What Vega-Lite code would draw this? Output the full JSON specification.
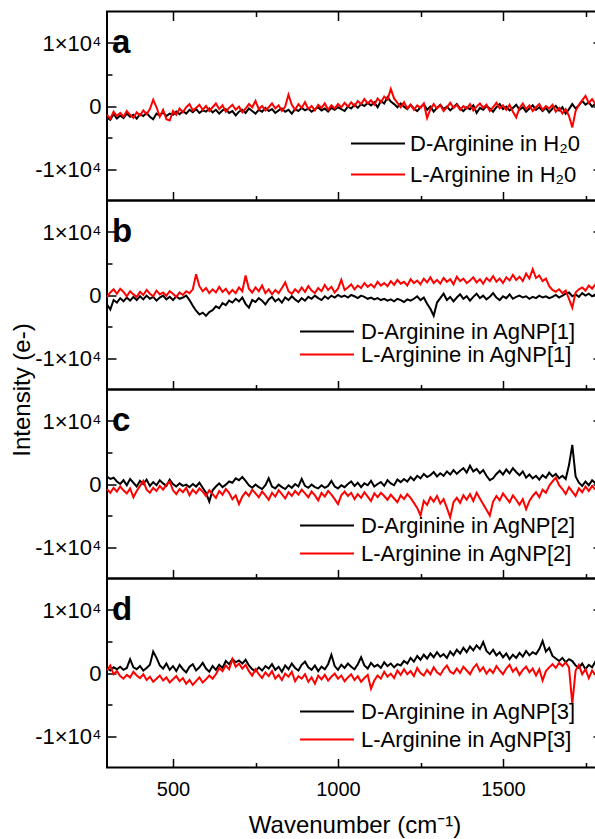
{
"$schema":"https://vega.github.io/schema/vega-lite/v6.json",
"background":"white",
"padding":{"left":9,"top":9.5,"right":0,"bottom":0},
"spacing":0,
"bounds":"flush",
"config":{"font":"Liberation Sans","view":{"stroke":"#000000","strokeWidth":2},
"axis":{"domain":false,"grid":false,"tickColor":"#000000","tickWidth":1.5,"labelColor":"#000000","labelFont":"Liberation Sans","labelFontSize":22,"titleFont":"Liberation Sans","titleColor":"#000000","titleFontWeight":"normal","titleFontSize":24}},
"datasets":{
"aD":[{"x":300,"y":-1800},{"x":310,"y":-2200},{"x":320,"y":-1300},{"x":330,"y":-2000},{"x":340,"y":-1500},{"x":350,"y":-1900},{"x":360,"y":-1200},{"x":370,"y":-1700},{"x":380,"y":-1400},{"x":390,"y":-2000},
{"x":400,"y":-1300},{"x":410,"y":-1600},{"x":420,"y":-1100},{"x":430,"y":-1700},{"x":440,"y":-2100},{"x":450,"y":-1200},{"x":460,"y":-1500},{"x":470,"y":-1000},{"x":480,"y":-1600},{"x":490,"y":-1200},
{"x":500,"y":-1400},{"x":510,"y":-900},{"x":520,"y":-1300},{"x":530,"y":-800},{"x":540,"y":-1200},{"x":550,"y":-600},{"x":560,"y":-1000},{"x":570,"y":-500},{"x":580,"y":-1100},{"x":590,"y":-700},
{"x":600,"y":-900},{"x":610,"y":-400},{"x":620,"y":-1000},{"x":630,"y":-600},{"x":640,"y":-1200},{"x":650,"y":-700},{"x":660,"y":-500},{"x":670,"y":-1100},{"x":680,"y":-800},{"x":690,"y":-1500},
{"x":700,"y":-900},{"x":710,"y":-600},{"x":720,"y":-1100},{"x":730,"y":-400},{"x":740,"y":-800},{"x":750,"y":-1200},{"x":760,"y":-600},{"x":770,"y":-900},{"x":780,"y":-300},{"x":790,"y":-800},
{"x":800,"y":-500},{"x":810,"y":-1100},{"x":820,"y":-700},{"x":830,"y":-400},{"x":840,"y":-900},{"x":850,"y":-600},{"x":860,"y":-1200},{"x":870,"y":-500},{"x":880,"y":-800},{"x":890,"y":-300},
{"x":900,"y":-700},{"x":910,"y":-400},{"x":920,"y":-900},{"x":930,"y":-500},{"x":940,"y":-200},{"x":950,"y":-700},{"x":960,"y":-400},{"x":970,"y":-900},{"x":980,"y":-300},{"x":990,"y":-600},
{"x":1000,"y":-200},{"x":1010,"y":-500},{"x":1020,"y":-800},{"x":1030,"y":-100},{"x":1040,"y":-400},{"x":1050,"y":200},{"x":1060,"y":-300},{"x":1070,"y":300},{"x":1080,"y":0},{"x":1090,"y":500},
{"x":1100,"y":100},{"x":1110,"y":600},{"x":1120,"y":-200},{"x":1130,"y":800},{"x":1140,"y":400},{"x":1150,"y":1400},{"x":1160,"y":700},{"x":1170,"y":300},{"x":1180,"y":-200},{"x":1190,"y":400},
{"x":1200,"y":-100},{"x":1210,"y":-500},{"x":1220,"y":200},{"x":1230,"y":-400},{"x":1240,"y":-800},{"x":1250,"y":-200},{"x":1260,"y":300},{"x":1270,"y":-600},{"x":1280,"y":-100},{"x":1290,"y":-900},
{"x":1300,"y":-300},{"x":1310,"y":200},{"x":1320,"y":-500},{"x":1330,"y":-100},{"x":1340,"y":-700},{"x":1350,"y":-200},{"x":1360,"y":300},{"x":1370,"y":-400},{"x":1380,"y":-800},{"x":1390,"y":-200},
{"x":1400,"y":-500},{"x":1410,"y":100},{"x":1420,"y":-1100},{"x":1430,"y":-300},{"x":1440,"y":-600},{"x":1450,"y":0},{"x":1460,"y":-400},{"x":1470,"y":-900},{"x":1480,"y":-200},{"x":1490,"y":300},
{"x":1500,"y":-500},{"x":1510,"y":-100},{"x":1520,"y":-700},{"x":1530,"y":-300},{"x":1540,"y":200},{"x":1550,"y":-600},{"x":1560,"y":-200},{"x":1570,"y":-900},{"x":1580,"y":-400},{"x":1590,"y":100},
{"x":1600,"y":-600},{"x":1610,"y":-200},{"x":1620,"y":-800},{"x":1630,"y":-300},{"x":1640,"y":-1000},{"x":1650,"y":-400},{"x":1660,"y":0},{"x":1670,"y":-700},{"x":1680,"y":-200},{"x":1690,"y":-1200},
{"x":1700,"y":-500},{"x":1710,"y":300},{"x":1720,"y":-400},{"x":1730,"y":100},{"x":1740,"y":800},{"x":1750,"y":200},{"x":1760,"y":600},{"x":1770,"y":-100},{"x":1780,"y":400},{"x":1790,"y":-300},
{"x":1800,"y":200}],
"aL":[{"x":300,"y":-1400},{"x":310,"y":-2000},{"x":320,"y":-900},{"x":330,"y":-1600},{"x":340,"y":-1100},{"x":350,"y":-1700},{"x":360,"y":-800},{"x":370,"y":-1400},{"x":380,"y":-1900},{"x":390,"y":-1000},
{"x":400,"y":-1500},{"x":410,"y":-700},{"x":420,"y":-1300},{"x":430,"y":-500},{"x":440,"y":1000},{"x":450,"y":-200},{"x":460,"y":-1700},{"x":470,"y":-600},{"x":480,"y":-2100},{"x":490,"y":-2300},
{"x":500,"y":-800},{"x":510,"y":-1400},{"x":520,"y":-400},{"x":530,"y":-1000},{"x":540,"y":-200},{"x":550,"y":300},{"x":560,"y":-700},{"x":570,"y":-300},{"x":580,"y":200},{"x":590,"y":-600},
{"x":600,"y":0},{"x":610,"y":-800},{"x":620,"y":-200},{"x":630,"y":400},{"x":640,"y":-500},{"x":650,"y":100},{"x":660,"y":-900},{"x":670,"y":-300},{"x":680,"y":200},{"x":690,"y":-600},
{"x":700,"y":-100},{"x":710,"y":-1000},{"x":720,"y":-400},{"x":730,"y":300},{"x":740,"y":-200},{"x":750,"y":800},{"x":760,"y":-500},{"x":770,"y":0},{"x":780,"y":-700},{"x":790,"y":-200},
{"x":800,"y":400},{"x":810,"y":-400},{"x":820,"y":100},{"x":830,"y":-800},{"x":840,"y":-100},{"x":850,"y":1800},{"x":860,"y":200},{"x":870,"y":-600},{"x":880,"y":300},{"x":890,"y":-300},
{"x":900,"y":600},{"x":910,"y":-500},{"x":920,"y":0},{"x":930,"y":-700},{"x":940,"y":200},{"x":950,"y":-300},{"x":960,"y":400},{"x":970,"y":-600},{"x":980,"y":100},{"x":990,"y":-400},
{"x":1000,"y":300},{"x":1010,"y":-200},{"x":1020,"y":500},{"x":1030,"y":-100},{"x":1040,"y":600},{"x":1050,"y":0},{"x":1060,"y":800},{"x":1070,"y":300},{"x":1080,"y":1100},{"x":1090,"y":400},
{"x":1100,"y":900},{"x":1110,"y":200},{"x":1120,"y":1200},{"x":1130,"y":600},{"x":1140,"y":1500},{"x":1150,"y":1000},{"x":1160,"y":2700},{"x":1170,"y":1200},{"x":1180,"y":500},{"x":1190,"y":-200},
{"x":1200,"y":600},{"x":1210,"y":-400},{"x":1220,"y":200},{"x":1230,"y":-600},{"x":1240,"y":100},{"x":1250,"y":-300},{"x":1260,"y":400},{"x":1270,"y":-1900},{"x":1280,"y":-500},{"x":1290,"y":300},
{"x":1300,"y":-400},{"x":1310,"y":100},{"x":1320,"y":-800},{"x":1330,"y":-200},{"x":1340,"y":500},{"x":1350,"y":-300},{"x":1360,"y":200},{"x":1370,"y":-600},{"x":1380,"y":0},{"x":1390,"y":-400},
{"x":1400,"y":300},{"x":1410,"y":-700},{"x":1420,"y":-100},{"x":1430,"y":400},{"x":1440,"y":-300},{"x":1450,"y":200},{"x":1460,"y":-800},{"x":1470,"y":-200},{"x":1480,"y":500},{"x":1490,"y":-400},
{"x":1500,"y":100},{"x":1510,"y":-600},{"x":1520,"y":200},{"x":1530,"y":-900},{"x":1540,"y":-1800},{"x":1550,"y":-300},{"x":1560,"y":400},{"x":1570,"y":-500},{"x":1580,"y":100},{"x":1590,"y":-800},
{"x":1600,"y":-200},{"x":1610,"y":300},{"x":1620,"y":-600},{"x":1630,"y":0},{"x":1640,"y":-400},{"x":1650,"y":200},{"x":1660,"y":-900},{"x":1670,"y":-300},{"x":1680,"y":-1200},{"x":1690,"y":-500},
{"x":1700,"y":-1600},{"x":1710,"y":-3400},{"x":1720,"y":-800},{"x":1730,"y":200},{"x":1740,"y":900},{"x":1750,"y":1600},{"x":1760,"y":500},{"x":1770,"y":1100},{"x":1780,"y":300},{"x":1790,"y":800},
{"x":1800,"y":-200}],
"bD":[{"x":300,"y":-1500},{"x":310,"y":-2300},{"x":320,"y":-800},{"x":330,"y":-1200},{"x":340,"y":-500},{"x":350,"y":-1000},{"x":360,"y":-400},{"x":370,"y":-900},{"x":380,"y":-300},{"x":390,"y":-800},
{"x":400,"y":-200},{"x":410,"y":-700},{"x":420,"y":-100},{"x":430,"y":-600},{"x":440,"y":-300},{"x":450,"y":-900},{"x":460,"y":-400},{"x":470,"y":-100},{"x":480,"y":-700},{"x":490,"y":-300},
{"x":500,"y":-800},{"x":510,"y":-200},{"x":520,"y":-600},{"x":530,"y":-400},{"x":540,"y":-100},{"x":550,"y":-800},{"x":560,"y":-1700},{"x":570,"y":-2500},{"x":580,"y":-3100},{"x":590,"y":-2800},
{"x":600,"y":-3300},{"x":610,"y":-2700},{"x":620,"y":-2400},{"x":630,"y":-1800},{"x":640,"y":-2100},{"x":650,"y":-1300},{"x":660,"y":-1600},{"x":670,"y":-900},{"x":680,"y":-1200},{"x":690,"y":-600},
{"x":700,"y":-1000},{"x":710,"y":-400},{"x":720,"y":-1400},{"x":730,"y":-2000},{"x":740,"y":-800},{"x":750,"y":-1100},{"x":760,"y":-500},{"x":770,"y":-900},{"x":780,"y":-1500},{"x":790,"y":-700},
{"x":800,"y":-300},{"x":810,"y":-1000},{"x":820,"y":-600},{"x":830,"y":-1200},{"x":840,"y":-400},{"x":850,"y":-800},{"x":860,"y":-200},{"x":870,"y":-700},{"x":880,"y":-1100},{"x":890,"y":-500},
{"x":900,"y":-900},{"x":910,"y":-300},{"x":920,"y":-600},{"x":930,"y":-100},{"x":940,"y":-500},{"x":950,"y":-800},{"x":960,"y":-200},{"x":970,"y":-600},{"x":980,"y":-100},{"x":990,"y":-400},
{"x":1000,"y":0},{"x":1010,"y":-300},{"x":1020,"y":-100},{"x":1030,"y":-400},{"x":1040,"y":0},{"x":1050,"y":-200},{"x":1060,"y":-500},{"x":1070,"y":-100},{"x":1080,"y":-300},{"x":1090,"y":-600},
{"x":1100,"y":-400},{"x":1110,"y":-700},{"x":1120,"y":-500},{"x":1130,"y":-800},{"x":1140,"y":-600},{"x":1150,"y":-900},{"x":1160,"y":-700},{"x":1170,"y":-1000},{"x":1180,"y":-600},{"x":1190,"y":-800},
{"x":1200,"y":-1100},{"x":1210,"y":-700},{"x":1220,"y":-900},{"x":1230,"y":-600},{"x":1240,"y":-200},{"x":1250,"y":-800},{"x":1260,"y":-400},{"x":1270,"y":-1400},{"x":1280,"y":-2200},{"x":1290,"y":-3300},
{"x":1300,"y":-1200},{"x":1310,"y":-500},{"x":1320,"y":200},{"x":1330,"y":-800},{"x":1340,"y":-300},{"x":1350,"y":-1000},{"x":1360,"y":-400},{"x":1370,"y":100},{"x":1380,"y":-600},{"x":1390,"y":-200},
{"x":1400,"y":-900},{"x":1410,"y":-300},{"x":1420,"y":200},{"x":1430,"y":-500},{"x":1440,"y":-100},{"x":1450,"y":-700},{"x":1460,"y":-300},{"x":1470,"y":300},{"x":1480,"y":-400},{"x":1490,"y":-800},
{"x":1500,"y":-200},{"x":1510,"y":-500},{"x":1520,"y":100},{"x":1530,"y":-600},{"x":1540,"y":-300},{"x":1550,"y":-100},{"x":1560,"y":-400},{"x":1570,"y":-200},{"x":1580,"y":-600},{"x":1590,"y":-300},
{"x":1600,"y":-500},{"x":1610,"y":-100},{"x":1620,"y":-400},{"x":1630,"y":-200},{"x":1640,"y":-500},{"x":1650,"y":-300},{"x":1660,"y":0},{"x":1670,"y":-400},{"x":1680,"y":-100},{"x":1690,"y":200},
{"x":1700,"y":400},{"x":1710,"y":-200},{"x":1720,"y":100},{"x":1730,"y":-300},{"x":1740,"y":300},{"x":1750,"y":-100},{"x":1760,"y":200},{"x":1770,"y":-200},{"x":1780,"y":100},{"x":1790,"y":-300},
{"x":1800,"y":0}],
"bL":[{"x":300,"y":-300},{"x":310,"y":400},{"x":320,"y":900},{"x":330,"y":200},{"x":340,"y":1000},{"x":350,"y":500},{"x":360,"y":-200},{"x":370,"y":600},{"x":380,"y":100},{"x":390,"y":-300},
{"x":400,"y":500},{"x":410,"y":0},{"x":420,"y":800},{"x":430,"y":200},{"x":440,"y":-200},{"x":450,"y":700},{"x":460,"y":100},{"x":470,"y":400},{"x":480,"y":-100},{"x":490,"y":600},
{"x":500,"y":200},{"x":510,"y":-300},{"x":520,"y":400},{"x":530,"y":0},{"x":540,"y":600},{"x":550,"y":300},{"x":560,"y":900},{"x":570,"y":3300},{"x":580,"y":1400},{"x":590,"y":600},
{"x":600,"y":1100},{"x":610,"y":300},{"x":620,"y":900},{"x":630,"y":400},{"x":640,"y":1300},{"x":650,"y":500},{"x":660,"y":1000},{"x":670,"y":200},{"x":680,"y":800},{"x":690,"y":300},
{"x":700,"y":1200},{"x":710,"y":600},{"x":720,"y":3100},{"x":730,"y":1000},{"x":740,"y":400},{"x":750,"y":1200},{"x":760,"y":600},{"x":770,"y":1500},{"x":780,"y":300},{"x":790,"y":900},
{"x":800,"y":100},{"x":810,"y":800},{"x":820,"y":300},{"x":830,"y":1100},{"x":840,"y":2000},{"x":850,"y":600},{"x":860,"y":200},{"x":870,"y":900},{"x":880,"y":400},{"x":890,"y":1200},
{"x":900,"y":500},{"x":910,"y":1400},{"x":920,"y":700},{"x":930,"y":300},{"x":940,"y":1100},{"x":950,"y":600},{"x":960,"y":1600},{"x":970,"y":800},{"x":980,"y":1300},{"x":990,"y":400},
{"x":1000,"y":1000},{"x":1010,"y":2400},{"x":1020,"y":800},{"x":1030,"y":1200},{"x":1040,"y":1700},{"x":1050,"y":900},{"x":1060,"y":1500},{"x":1070,"y":1100},{"x":1080,"y":1900},{"x":1090,"y":1300},
{"x":1100,"y":1700},{"x":1110,"y":1200},{"x":1120,"y":2100},{"x":1130,"y":1500},{"x":1140,"y":1900},{"x":1150,"y":1400},{"x":1160,"y":2200},{"x":1170,"y":1600},{"x":1180,"y":2400},{"x":1190,"y":1800},
{"x":1200,"y":2100},{"x":1210,"y":1500},{"x":1220,"y":2500},{"x":1230,"y":1900},{"x":1240,"y":2300},{"x":1250,"y":1700},{"x":1260,"y":2600},{"x":1270,"y":2000},{"x":1280,"y":2800},{"x":1290,"y":1900},
{"x":1300,"y":2400},{"x":1310,"y":1800},{"x":1320,"y":2700},{"x":1330,"y":2100},{"x":1340,"y":2500},{"x":1350,"y":1700},{"x":1360,"y":2900},{"x":1370,"y":2200},{"x":1380,"y":2600},{"x":1390,"y":1900},
{"x":1400,"y":2300},{"x":1410,"y":2800},{"x":1420,"y":2000},{"x":1430,"y":2500},{"x":1440,"y":1800},{"x":1450,"y":2700},{"x":1460,"y":2200},{"x":1470,"y":3000},{"x":1480,"y":2100},{"x":1490,"y":2600},
{"x":1500,"y":1900},{"x":1510,"y":2800},{"x":1520,"y":2300},{"x":1530,"y":3200},{"x":1540,"y":2400},{"x":1550,"y":2900},{"x":1560,"y":2200},{"x":1570,"y":3400},{"x":1580,"y":2600},{"x":1590,"y":4100},
{"x":1600,"y":2700},{"x":1610,"y":3100},{"x":1620,"y":2200},{"x":1630,"y":2600},{"x":1640,"y":1400},{"x":1650,"y":800},{"x":1660,"y":500},{"x":1670,"y":900},{"x":1680,"y":300},{"x":1690,"y":700},
{"x":1700,"y":-600},{"x":1710,"y":-2000},{"x":1720,"y":400},{"x":1730,"y":900},{"x":1740,"y":1200},{"x":1750,"y":700},{"x":1760,"y":1500},{"x":1770,"y":1000},{"x":1780,"y":1700},{"x":1790,"y":1200},
{"x":1800,"y":1500}],
"cD":[{"x":300,"y":1200},{"x":310,"y":800},{"x":320,"y":1000},{"x":330,"y":400},{"x":340,"y":0},{"x":350,"y":600},{"x":360,"y":-200},{"x":370,"y":800},{"x":380,"y":200},{"x":390,"y":-400},
{"x":400,"y":500},{"x":410,"y":0},{"x":420,"y":700},{"x":430,"y":-300},{"x":440,"y":300},{"x":450,"y":-200},{"x":460,"y":600},{"x":470,"y":100},{"x":480,"y":-300},{"x":490,"y":700},
{"x":500,"y":0},{"x":510,"y":-400},{"x":520,"y":100},{"x":530,"y":-300},{"x":540,"y":-100},{"x":550,"y":-500},{"x":560,"y":0},{"x":570,"y":-400},{"x":580,"y":200},{"x":590,"y":-600},
{"x":600,"y":-1400},{"x":610,"y":-2800},{"x":620,"y":-1000},{"x":630,"y":-400},{"x":640,"y":100},{"x":650,"y":-500},{"x":660,"y":-100},{"x":670,"y":400},{"x":680,"y":200},{"x":690,"y":900},
{"x":700,"y":600},{"x":710,"y":1100},{"x":720,"y":500},{"x":730,"y":-200},{"x":740,"y":-600},{"x":750,"y":-100},{"x":760,"y":-500},{"x":770,"y":-800},{"x":780,"y":-200},{"x":790,"y":900},
{"x":800,"y":-400},{"x":810,"y":-700},{"x":820,"y":-100},{"x":830,"y":-500},{"x":840,"y":-800},{"x":850,"y":-200},{"x":860,"y":-600},{"x":870,"y":0},{"x":880,"y":-400},{"x":890,"y":800},
{"x":900,"y":-300},{"x":910,"y":-600},{"x":920,"y":-100},{"x":930,"y":-500},{"x":940,"y":-700},{"x":950,"y":-200},{"x":960,"y":-600},{"x":970,"y":-300},{"x":980,"y":500},{"x":990,"y":-400},
{"x":1000,"y":-700},{"x":1010,"y":-200},{"x":1020,"y":-500},{"x":1030,"y":0},{"x":1040,"y":400},{"x":1050,"y":-300},{"x":1060,"y":200},{"x":1070,"y":-500},{"x":1080,"y":100},{"x":1090,"y":-200},
{"x":1100,"y":500},{"x":1110,"y":-400},{"x":1120,"y":0},{"x":1130,"y":300},{"x":1140,"y":-300},{"x":1150,"y":600},{"x":1160,"y":100},{"x":1170,"y":-200},{"x":1180,"y":700},{"x":1190,"y":300},
{"x":1200,"y":800},{"x":1210,"y":400},{"x":1220,"y":1100},{"x":1230,"y":600},{"x":1240,"y":1300},{"x":1250,"y":900},{"x":1260,"y":1600},{"x":1270,"y":1100},{"x":1280,"y":1400},{"x":1290,"y":1900},
{"x":1300,"y":1200},{"x":1310,"y":1700},{"x":1320,"y":1300},{"x":1330,"y":2000},{"x":1340,"y":1500},{"x":1350,"y":2200},{"x":1360,"y":1600},{"x":1370,"y":2100},{"x":1380,"y":2500},{"x":1390,"y":1800},
{"x":1400,"y":2900},{"x":1410,"y":2000},{"x":1420,"y":2400},{"x":1430,"y":1700},{"x":1440,"y":2200},{"x":1450,"y":1300},{"x":1460,"y":600},{"x":1470,"y":900},{"x":1480,"y":1600},{"x":1490,"y":2100},
{"x":1500,"y":1500},{"x":1510,"y":2300},{"x":1520,"y":1700},{"x":1530,"y":2500},{"x":1540,"y":1900},{"x":1550,"y":1400},{"x":1560,"y":2000},{"x":1570,"y":1000},{"x":1580,"y":1500},{"x":1590,"y":900},
{"x":1600,"y":1300},{"x":1610,"y":700},{"x":1620,"y":1400},{"x":1630,"y":1000},{"x":1640,"y":1800},{"x":1650,"y":1200},{"x":1660,"y":1600},{"x":1670,"y":900},{"x":1680,"y":1300},{"x":1690,"y":800},
{"x":1700,"y":3000},{"x":1710,"y":6200},{"x":1720,"y":1200},{"x":1730,"y":200},{"x":1740,"y":-300},{"x":1750,"y":400},{"x":1760,"y":-200},{"x":1770,"y":600},{"x":1780,"y":100},{"x":1790,"y":1000},
{"x":1800,"y":400}],
"cL":[{"x":300,"y":-800},{"x":310,"y":-1400},{"x":320,"y":-600},{"x":330,"y":-1200},{"x":340,"y":-400},{"x":350,"y":-1000},{"x":360,"y":-1500},{"x":370,"y":-700},{"x":380,"y":-2100},{"x":390,"y":-1100},
{"x":400,"y":-300},{"x":410,"y":500},{"x":420,"y":-900},{"x":430,"y":-1400},{"x":440,"y":-600},{"x":450,"y":-1100},{"x":460,"y":-300},{"x":470,"y":-900},{"x":480,"y":-100},{"x":490,"y":400},
{"x":500,"y":-1000},{"x":510,"y":-1600},{"x":520,"y":-800},{"x":530,"y":-1300},{"x":540,"y":-600},{"x":550,"y":-1800},{"x":560,"y":-900},{"x":570,"y":-1500},{"x":580,"y":-700},{"x":590,"y":-1200},
{"x":600,"y":-1900},{"x":610,"y":-1000},{"x":620,"y":-1600},{"x":630,"y":-2200},{"x":640,"y":-1100},{"x":650,"y":-1700},{"x":660,"y":-800},{"x":670,"y":-1400},{"x":680,"y":-2400},{"x":690,"y":-1800},
{"x":700,"y":-3200},{"x":710,"y":-2000},{"x":720,"y":-1300},{"x":730,"y":-1900},{"x":740,"y":-900},{"x":750,"y":-1500},{"x":760,"y":-2100},{"x":770,"y":-1200},{"x":780,"y":-1800},{"x":790,"y":-2500},
{"x":800,"y":-1400},{"x":810,"y":-2000},{"x":820,"y":-1000},{"x":830,"y":-1600},{"x":840,"y":-2300},{"x":850,"y":-1300},{"x":860,"y":-1900},{"x":870,"y":-1100},{"x":880,"y":-1700},{"x":890,"y":-900},
{"x":900,"y":-1500},{"x":910,"y":-2100},{"x":920,"y":-1200},{"x":930,"y":-1800},{"x":940,"y":-2600},{"x":950,"y":-1400},{"x":960,"y":-2000},{"x":970,"y":-1100},{"x":980,"y":-1700},{"x":990,"y":-2400},
{"x":1000,"y":-3200},{"x":1010,"y":-1800},{"x":1020,"y":-1200},{"x":1030,"y":-1900},{"x":1040,"y":-1400},{"x":1050,"y":-2400},{"x":1060,"y":-1600},{"x":1070,"y":-2200},{"x":1080,"y":-1300},{"x":1090,"y":-2000},
{"x":1100,"y":-2700},{"x":1110,"y":-1500},{"x":1120,"y":-2100},{"x":1130,"y":-1400},{"x":1140,"y":-1900},{"x":1150,"y":-2500},{"x":1160,"y":-1700},{"x":1170,"y":-2300},{"x":1180,"y":-2900},{"x":1190,"y":-1800},
{"x":1200,"y":-2400},{"x":1210,"y":-1600},{"x":1220,"y":-2200},{"x":1230,"y":-3000},{"x":1240,"y":-3800},{"x":1250,"y":-5000},{"x":1260,"y":-2700},{"x":1270,"y":-3300},{"x":1280,"y":-2100},{"x":1290,"y":-2800},
{"x":1300,"y":-1900},{"x":1310,"y":-3100},{"x":1320,"y":-2400},{"x":1330,"y":-3800},{"x":1340,"y":-5300},{"x":1350,"y":-2900},{"x":1360,"y":-2200},{"x":1370,"y":-3000},{"x":1380,"y":-1800},{"x":1390,"y":-2500},
{"x":1400,"y":-1600},{"x":1410,"y":-2700},{"x":1420,"y":-1400},{"x":1430,"y":-2300},{"x":1440,"y":-3200},{"x":1450,"y":-4100},{"x":1460,"y":-5000},{"x":1470,"y":-2800},{"x":1480,"y":-1900},{"x":1490,"y":-2600},
{"x":1500,"y":-1500},{"x":1510,"y":-2200},{"x":1520,"y":-2900},{"x":1530,"y":-1800},{"x":1540,"y":-2500},{"x":1550,"y":-3300},{"x":1560,"y":-2400},{"x":1570,"y":-4000},{"x":1580,"y":-2700},{"x":1590,"y":-1900},
{"x":1600,"y":-1300},{"x":1610,"y":-2100},{"x":1620,"y":-900},{"x":1630,"y":-1400},{"x":1640,"y":-300},{"x":1650,"y":400},{"x":1660,"y":1000},{"x":1670,"y":-200},{"x":1680,"y":-800},{"x":1690,"y":-1600},
{"x":1700,"y":-500},{"x":1710,"y":-1200},{"x":1720,"y":-1900},{"x":1730,"y":-700},{"x":1740,"y":-1300},{"x":1750,"y":-400},{"x":1760,"y":-1100},{"x":1770,"y":-300},{"x":1780,"y":-900},{"x":1790,"y":-1400},
{"x":1800,"y":-600}],
"dD":[{"x":300,"y":800},{"x":310,"y":400},{"x":320,"y":900},{"x":330,"y":600},{"x":340,"y":1000},{"x":350,"y":500},{"x":360,"y":800},{"x":370,"y":2200},{"x":380,"y":900},{"x":390,"y":600},
{"x":400,"y":1100},{"x":410,"y":400},{"x":420,"y":800},{"x":430,"y":1300},{"x":440,"y":3400},{"x":450,"y":2400},{"x":460,"y":1200},{"x":470,"y":700},{"x":480,"y":1500},{"x":490,"y":500},
{"x":500,"y":1100},{"x":510,"y":300},{"x":520,"y":1300},{"x":530,"y":600},{"x":540,"y":100},{"x":550,"y":1000},{"x":560,"y":1400},{"x":570,"y":400},{"x":580,"y":900},{"x":590,"y":1600},
{"x":600,"y":700},{"x":610,"y":200},{"x":620,"y":1100},{"x":630,"y":500},{"x":640,"y":1300},{"x":650,"y":800},{"x":660,"y":1900},{"x":670,"y":1400},{"x":680,"y":2200},{"x":690,"y":1700},
{"x":700,"y":2000},{"x":710,"y":1500},{"x":720,"y":2100},{"x":730,"y":1200},{"x":740,"y":600},{"x":750,"y":300},{"x":760,"y":900},{"x":770,"y":400},{"x":780,"y":1100},{"x":790,"y":700},
{"x":800,"y":1400},{"x":810,"y":500},{"x":820,"y":1000},{"x":830,"y":200},{"x":840,"y":1200},{"x":850,"y":600},{"x":860,"y":1500},{"x":870,"y":800},{"x":880,"y":400},{"x":890,"y":1300},
{"x":900,"y":1800},{"x":910,"y":900},{"x":920,"y":500},{"x":930,"y":1200},{"x":940,"y":300},{"x":950,"y":1000},{"x":960,"y":600},{"x":970,"y":1400},{"x":980,"y":2900},{"x":990,"y":1100},
{"x":1000,"y":500},{"x":1010,"y":1300},{"x":1020,"y":800},{"x":1030,"y":1500},{"x":1040,"y":1000},{"x":1050,"y":600},{"x":1060,"y":1400},{"x":1070,"y":2500},{"x":1080,"y":1200},{"x":1090,"y":700},
{"x":1100,"y":1600},{"x":1110,"y":1000},{"x":1120,"y":1300},{"x":1130,"y":800},{"x":1140,"y":1700},{"x":1150,"y":1100},{"x":1160,"y":1500},{"x":1170,"y":900},{"x":1180,"y":1400},{"x":1190,"y":1200},
{"x":1200,"y":1900},{"x":1210,"y":1500},{"x":1220,"y":2400},{"x":1230,"y":1800},{"x":1240,"y":2700},{"x":1250,"y":2100},{"x":1260,"y":2900},{"x":1270,"y":2300},{"x":1280,"y":3100},{"x":1290,"y":2500},
{"x":1300,"y":3300},{"x":1310,"y":2600},{"x":1320,"y":3000},{"x":1330,"y":2400},{"x":1340,"y":3400},{"x":1350,"y":2800},{"x":1360,"y":3700},{"x":1370,"y":3100},{"x":1380,"y":4000},{"x":1390,"y":3300},
{"x":1400,"y":4200},{"x":1410,"y":3600},{"x":1420,"y":4400},{"x":1430,"y":3800},{"x":1440,"y":4900},{"x":1450,"y":3500},{"x":1460,"y":3000},{"x":1470,"y":3700},{"x":1480,"y":2800},{"x":1490,"y":3300},
{"x":1500,"y":2500},{"x":1510,"y":3100},{"x":1520,"y":2200},{"x":1530,"y":2900},{"x":1540,"y":2400},{"x":1550,"y":3200},{"x":1560,"y":2600},{"x":1570,"y":3500},{"x":1580,"y":2800},{"x":1590,"y":3300},
{"x":1600,"y":3000},{"x":1610,"y":3800},{"x":1620,"y":5100},{"x":1630,"y":3400},{"x":1640,"y":4000},{"x":1650,"y":2700},{"x":1660,"y":2300},{"x":1670,"y":1900},{"x":1680,"y":2400},{"x":1690,"y":1700},
{"x":1700,"y":2200},{"x":1710,"y":1900},{"x":1720,"y":1200},{"x":1730,"y":800},{"x":1740,"y":1500},{"x":1750,"y":600},{"x":1760,"y":1300},{"x":1770,"y":900},{"x":1780,"y":1800},{"x":1790,"y":1100},
{"x":1800,"y":700}],
"dL":[{"x":300,"y":400},{"x":310,"y":1200},{"x":320,"y":-200},{"x":330,"y":300},{"x":340,"y":-500},{"x":350,"y":-900},{"x":360,"y":-300},{"x":370,"y":-700},{"x":380,"y":200},{"x":390,"y":-400},
{"x":400,"y":-800},{"x":410,"y":-200},{"x":420,"y":-1100},{"x":430,"y":-600},{"x":440,"y":-1400},{"x":450,"y":-900},{"x":460,"y":-400},{"x":470,"y":-1200},{"x":480,"y":-700},{"x":490,"y":-1500},
{"x":500,"y":-1000},{"x":510,"y":-500},{"x":520,"y":-1300},{"x":530,"y":-800},{"x":540,"y":-1700},{"x":550,"y":-1100},{"x":560,"y":-1900},{"x":570,"y":-1300},{"x":580,"y":-700},{"x":590,"y":-1500},
{"x":600,"y":-1000},{"x":610,"y":-400},{"x":620,"y":-900},{"x":630,"y":-200},{"x":640,"y":800},{"x":650,"y":300},{"x":660,"y":1200},{"x":670,"y":600},{"x":680,"y":2200},{"x":690,"y":1000},
{"x":700,"y":1500},{"x":710,"y":700},{"x":720,"y":1300},{"x":730,"y":300},{"x":740,"y":-400},{"x":750,"y":600},{"x":760,"y":-200},{"x":770,"y":-800},{"x":780,"y":100},{"x":790,"y":-500},
{"x":800,"y":300},{"x":810,"y":-900},{"x":820,"y":-300},{"x":830,"y":-1100},{"x":840,"y":-100},{"x":850,"y":-600},{"x":860,"y":200},{"x":870,"y":-1300},{"x":880,"y":-500},{"x":890,"y":-900},
{"x":900,"y":-200},{"x":910,"y":-1400},{"x":920,"y":-700},{"x":930,"y":-1700},{"x":940,"y":-400},{"x":950,"y":-1000},{"x":960,"y":-300},{"x":970,"y":-1200},{"x":980,"y":-600},{"x":990,"y":-100},
{"x":1000,"y":-900},{"x":1010,"y":-400},{"x":1020,"y":-1300},{"x":1030,"y":-700},{"x":1040,"y":-200},{"x":1050,"y":-1100},{"x":1060,"y":-500},{"x":1070,"y":-1400},{"x":1080,"y":-800},{"x":1090,"y":-300},
{"x":1100,"y":-2500},{"x":1110,"y":-1200},{"x":1120,"y":-400},{"x":1130,"y":-900},{"x":1140,"y":200},{"x":1150,"y":-600},{"x":1160,"y":-100},{"x":1170,"y":-800},{"x":1180,"y":400},{"x":1190,"y":-300},
{"x":1200,"y":600},{"x":1210,"y":-200},{"x":1220,"y":300},{"x":1230,"y":-500},{"x":1240,"y":800},{"x":1250,"y":0},{"x":1260,"y":-400},{"x":1270,"y":500},{"x":1280,"y":-200},{"x":1290,"y":900},
{"x":1300,"y":100},{"x":1310,"y":-300},{"x":1320,"y":600},{"x":1330,"y":1200},{"x":1340,"y":200},{"x":1350,"y":-100},{"x":1360,"y":700},{"x":1370,"y":0},{"x":1380,"y":1000},{"x":1390,"y":400},
{"x":1400,"y":-200},{"x":1410,"y":800},{"x":1420,"y":1400},{"x":1430,"y":300},{"x":1440,"y":900},{"x":1450,"y":-100},{"x":1460,"y":600},{"x":1470,"y":0},{"x":1480,"y":1100},{"x":1490,"y":400},
{"x":1500,"y":-200},{"x":1510,"y":700},{"x":1520,"y":1300},{"x":1530,"y":200},{"x":1540,"y":800},{"x":1550,"y":-300},{"x":1560,"y":500},{"x":1570,"y":1000},{"x":1580,"y":100},{"x":1590,"y":700},
{"x":1600,"y":-400},{"x":1610,"y":600},{"x":1620,"y":-1200},{"x":1630,"y":300},{"x":1640,"y":900},{"x":1650,"y":1400},{"x":1660,"y":800},{"x":1670,"y":1600},{"x":1680,"y":1100},{"x":1690,"y":1700},
{"x":1700,"y":900},{"x":1710,"y":-4900},{"x":1720,"y":400},{"x":1730,"y":1300},{"x":1740,"y":-200},{"x":1750,"y":600},{"x":1760,"y":-800},{"x":1770,"y":400},{"x":1780,"y":-300},{"x":1790,"y":700},
{"x":1800,"y":-100}]
},
"resolve":{"scale":{"color":"independent"},"legend":{"color":"independent"}},
"vconcat":[
{"width":495,"height":189,
"layer":[
{"data":{"name":"aD"},"mark":{"type":"line","strokeWidth":2},
"encoding":{
"x":{"field":"x","type":"quantitative","scale":{"domain":[300,1800],"nice":false,"zero":false},"axis":{"orient":"bottom","values":[500,1000,1500],"tickSize":-9,"labels":false,"title":null}},
"y":{"field":"y","type":"quantitative","scale":{"domain":[-15000,15000],"nice":false,"zero":false},"axis":{"orient":"left","values":[-10000,0,10000],"tickSize":-9,"labelExpr":"datum.value === 0 ? '0' : datum.value > 0 ? '1×10⁴' : '-1×10⁴'","labelPadding":15,"title":null}},
"color":{"datum":"D","type":"nominal","scale":{"domain":["D","L"],"range":["#000000","#ff0000"]},"legend":{"orient":"none","legendX":260,"legendY":121,"title":null,"padding":0,"symbolType":"M-2.7,0H2.7","symbolSize":400,"symbolStrokeWidth":2,"labelFontSize":22,"labelFont":"Liberation Sans","labelColor":"#000000","labelLimit":0,"labelOffset":21,"rowPadding":9,"labelExpr":"datum.value === 'D' ? 'D-Arginine in H₂0' : '\u00a0L-Arginine in H₂0'"}}}},
{"data":{"name":"aL"},"mark":{"type":"line","strokeWidth":2},
"encoding":{"x":{"field":"x","type":"quantitative","axis":{"orient":"bottom","values":[750,1250,1750],"tickSize":-5,"labels":false,"title":null}},"y":{"field":"y","type":"quantitative","axis":{"orient":"left","values":[-5000,5000],"tickSize":-5,"labels":false,"title":null}},"color":{"datum":"L","type":"nominal"}}},
{"data":{"values":[{"t":"a"}]},"mark":{"type":"text","fontSize":33,"fontWeight":"bold","font":"Liberation Sans","align":"left","baseline":"alphabetic","dx":5,"dy":41,"color":"#000000"},
"encoding":{"x":{"datum":300,"type":"quantitative","axis":{"orient":"top","values":[500,1000,1500],"tickSize":-9,"labels":false,"title":null}},"y":{"datum":15000,"type":"quantitative","axis":{"orient":"right","values":[-10000,0,10000],"tickSize":-9,"labels":false,"title":null}},"text":{"field":"t"}}},
{"data":{"values":[{"t":"a"}]},"mark":{"type":"text","fontSize":33,"opacity":0,"align":"left","baseline":"alphabetic","dx":5,"dy":41},
"encoding":{"x":{"datum":300,"type":"quantitative","axis":{"orient":"top","values":[750,1250,1750],"tickSize":-5,"labels":false,"title":null}},"y":{"datum":15000,"type":"quantitative","axis":{"orient":"right","values":[-5000,5000],"tickSize":-5,"labels":false,"title":null}},"text":{"field":"t"}}}
],
"resolve":{"axis":{"x":"independent","y":"independent"}}},
{"width":495,"height":189,
"layer":[
{"data":{"name":"bD"},"mark":{"type":"line","strokeWidth":2},
"encoding":{
"x":{"field":"x","type":"quantitative","scale":{"domain":[300,1800],"nice":false,"zero":false},"axis":{"orient":"bottom","values":[500,1000,1500],"tickSize":-9,"labels":false,"title":null}},
"y":{"field":"y","type":"quantitative","scale":{"domain":[-15000,15000],"nice":false,"zero":false},"axis":{"orient":"left","values":[-10000,0,10000],"tickSize":-9,"labelExpr":"datum.value === 0 ? '0' : datum.value > 0 ? '1×10⁴' : '-1×10⁴'","labelPadding":15,"title":"Intensity (e-)","titleAngle":-90,"titleBaseline":"alphabetic","titleAlign":"center","titleX":-78,"titleY":189}},
"color":{"datum":"D","type":"nominal","scale":{"domain":["D","L"],"range":["#000000","#ff0000"]},"legend":{"orient":"none","legendX":209,"legendY":120,"title":null,"padding":0,"symbolType":"M-2.7,0H2.7","symbolSize":400,"symbolStrokeWidth":2,"labelFontSize":22,"labelFont":"Liberation Sans","labelColor":"#000000","labelLimit":0,"labelOffset":23,"rowPadding":1,"labelExpr":"datum.value === 'D' ? '\u00a0D-Arginine in AgNP[1]' : 'L-Arginine in AgNP[1]'"}}}},
{"data":{"name":"bL"},"mark":{"type":"line","strokeWidth":2},
"encoding":{"x":{"field":"x","type":"quantitative","axis":{"orient":"bottom","values":[750,1250,1750],"tickSize":-5,"labels":false,"title":null}},"y":{"field":"y","type":"quantitative","axis":{"orient":"left","values":[-5000,5000],"tickSize":-5,"labels":false,"title":null}},"color":{"datum":"L","type":"nominal"}}},
{"data":{"values":[{"t":"b"}]},"mark":{"type":"text","fontSize":33,"fontWeight":"bold","font":"Liberation Sans","align":"left","baseline":"alphabetic","dx":5,"dy":41,"color":"#000000"},
"encoding":{"x":{"datum":300,"type":"quantitative","axis":null},"y":{"datum":15000,"type":"quantitative","axis":{"orient":"right","values":[-10000,0,10000],"tickSize":-9,"labels":false,"title":null}},"text":{"field":"t"}}},
{"data":{"values":[{"t":"b"}]},"mark":{"type":"text","fontSize":33,"opacity":0,"align":"left","baseline":"alphabetic","dx":5,"dy":41},
"encoding":{"x":{"datum":300,"type":"quantitative","axis":null},"y":{"datum":15000,"type":"quantitative","axis":{"orient":"right","values":[-5000,5000],"tickSize":-5,"labels":false,"title":null}},"text":{"field":"t"}}}
],
"resolve":{"axis":{"x":"independent","y":"independent"}}},
{"width":495,"height":189,
"layer":[
{"data":{"name":"cD"},"mark":{"type":"line","strokeWidth":2},
"encoding":{
"x":{"field":"x","type":"quantitative","scale":{"domain":[300,1800],"nice":false,"zero":false},"axis":{"orient":"bottom","values":[500,1000,1500],"tickSize":-9,"labels":false,"title":null}},
"y":{"field":"y","type":"quantitative","scale":{"domain":[-15000,15000],"nice":false,"zero":false},"axis":{"orient":"left","values":[-10000,0,10000],"tickSize":-9,"labelExpr":"datum.value === 0 ? '0' : datum.value > 0 ? '1×10⁴' : '-1×10⁴'","labelPadding":15,"title":null}},
"color":{"datum":"D","type":"nominal","scale":{"domain":["D","L"],"range":["#000000","#ff0000"]},"legend":{"orient":"none","legendX":209,"legendY":125,"title":null,"padding":0,"symbolType":"M-2.7,0H2.7","symbolSize":400,"symbolStrokeWidth":2,"labelFontSize":22,"labelFont":"Liberation Sans","labelColor":"#000000","labelLimit":0,"labelOffset":23,"rowPadding":6,"labelExpr":"datum.value === 'D' ? '\u00a0D-Arginine in AgNP[2]' : 'L-Arginine in AgNP[2]'"}}}},
{"data":{"name":"cL"},"mark":{"type":"line","strokeWidth":2},
"encoding":{"x":{"field":"x","type":"quantitative","axis":{"orient":"bottom","values":[750,1250,1750],"tickSize":-5,"labels":false,"title":null}},"y":{"field":"y","type":"quantitative","axis":{"orient":"left","values":[-5000,5000],"tickSize":-5,"labels":false,"title":null}},"color":{"datum":"L","type":"nominal"}}},
{"data":{"values":[{"t":"c"}]},"mark":{"type":"text","fontSize":33,"fontWeight":"bold","font":"Liberation Sans","align":"left","baseline":"alphabetic","dx":5,"dy":41,"color":"#000000"},
"encoding":{"x":{"datum":300,"type":"quantitative","axis":null},"y":{"datum":15000,"type":"quantitative","axis":{"orient":"right","values":[-10000,0,10000],"tickSize":-9,"labels":false,"title":null}},"text":{"field":"t"}}},
{"data":{"values":[{"t":"c"}]},"mark":{"type":"text","fontSize":33,"opacity":0,"align":"left","baseline":"alphabetic","dx":5,"dy":41},
"encoding":{"x":{"datum":300,"type":"quantitative","axis":null},"y":{"datum":15000,"type":"quantitative","axis":{"orient":"right","values":[-5000,5000],"tickSize":-5,"labels":false,"title":null}},"text":{"field":"t"}}}
],
"resolve":{"axis":{"x":"independent","y":"independent"}}},
{"width":495,"height":189,
"layer":[
{"data":{"name":"dD"},"mark":{"type":"line","strokeWidth":2},
"encoding":{
"x":{"field":"x","type":"quantitative","scale":{"domain":[300,1800],"nice":false,"zero":false},"axis":{"orient":"bottom","values":[500,1000,1500],"tickSize":-9,"format":"d","labelFontSize":20,"labelPadding":21,"title":"Wavenumber (cm⁻¹)","titleBaseline":"alphabetic","titleY":65}},
"y":{"field":"y","type":"quantitative","scale":{"domain":[-15000,15000],"nice":false,"zero":false},"axis":{"orient":"left","values":[-10000,0,10000],"tickSize":-9,"labelExpr":"datum.value === 0 ? '0' : datum.value > 0 ? '1×10⁴' : '-1×10⁴'","labelPadding":15,"title":null}},
"color":{"datum":"D","type":"nominal","scale":{"domain":["D","L"],"range":["#000000","#ff0000"]},"legend":{"orient":"none","legendX":209,"legendY":122,"title":null,"padding":0,"symbolType":"M-2.7,0H2.7","symbolSize":400,"symbolStrokeWidth":2,"labelFontSize":22,"labelFont":"Liberation Sans","labelColor":"#000000","labelLimit":0,"labelOffset":23,"rowPadding":6,"labelExpr":"datum.value === 'D' ? '\u00a0D-Arginine in AgNP[3]' : 'L-Arginine in AgNP[3]'"}}}},
{"data":{"name":"dL"},"mark":{"type":"line","strokeWidth":2},
"encoding":{"x":{"field":"x","type":"quantitative","axis":{"orient":"bottom","values":[750,1250,1750],"tickSize":-5,"labels":false,"title":null}},"y":{"field":"y","type":"quantitative","axis":{"orient":"left","values":[-5000,5000],"tickSize":-5,"labels":false,"title":null}},"color":{"datum":"L","type":"nominal"}}},
{"data":{"values":[{"t":"d"}]},"mark":{"type":"text","fontSize":33,"fontWeight":"bold","font":"Liberation Sans","align":"left","baseline":"alphabetic","dx":5,"dy":41,"color":"#000000"},
"encoding":{"x":{"datum":300,"type":"quantitative","axis":null},"y":{"datum":15000,"type":"quantitative","axis":{"orient":"right","values":[-10000,0,10000],"tickSize":-9,"labels":false,"title":null}},"text":{"field":"t"}}},
{"data":{"values":[{"t":"d"}]},"mark":{"type":"text","fontSize":33,"opacity":0,"align":"left","baseline":"alphabetic","dx":5,"dy":41},
"encoding":{"x":{"datum":300,"type":"quantitative","axis":null},"y":{"datum":15000,"type":"quantitative","axis":{"orient":"right","values":[-5000,5000],"tickSize":-5,"labels":false,"title":null}},"text":{"field":"t"}}}
],
"resolve":{"axis":{"x":"independent","y":"independent"}}}
]
}
